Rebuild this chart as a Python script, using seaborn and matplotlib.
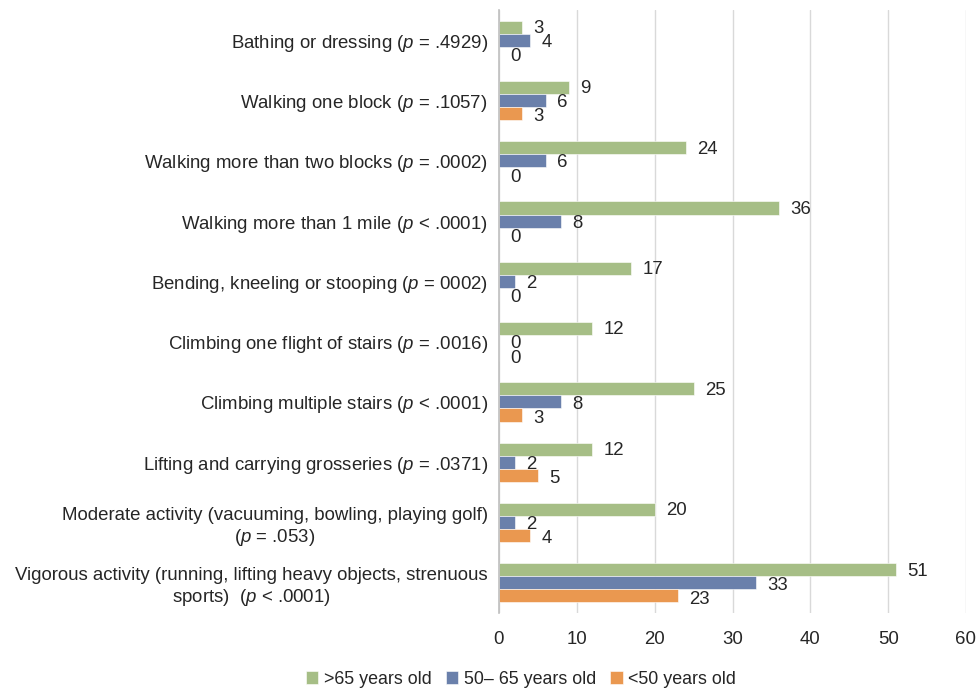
import matplotlib
matplotlib.use("Agg")
import matplotlib.pyplot as plt
import seaborn as sns
import pandas as pd

categories = [
    "Bathing or dressing ($p$ = .4929)",
    "Walking one block ($p$ = .1057)",
    "Walking more than two blocks ($p$ = .0002)",
    "Walking more than 1 mile ($p$ < .0001)",
    "Bending, kneeling or stooping ($p$ = 0002)",
    "Climbing one flight of stairs ($p$ = .0016)",
    "Climbing multiple stairs ($p$ < .0001)",
    "Lifting and carrying grosseries ($p$ = .0371)",
    "Moderate activity (vacuuming, bowling, playing golf)\n($p$ = .053)",
    "Vigorous activity (running, lifting heavy objects, strenuous\nsports)  ($p$ < .0001)",
]
series = [">65 years old", "50\u2013 65 years old", "<50 years old"]
over65 = [3, 9, 24, 36, 17, 12, 25, 12, 20, 51]
age50_65 = [4, 6, 6, 8, 2, 0, 8, 2, 2, 33]
under50 = [0, 3, 0, 0, 0, 0, 3, 5, 4, 23]
xticks = [0, 10, 20, 30, 40, 50, 60]

colors = ["#A6BE86", "#6A80AB", "#EA9850"]
FS = 13.4

sns.set_theme(style="white")
plt.rcParams["font.family"] = ["Liberation Sans", "DejaVu Sans"]
plt.rcParams["mathtext.fontset"] = "custom"
plt.rcParams["mathtext.it"] = "Liberation Sans:italic"
plt.rcParams["mathtext.rm"] = "Liberation Sans"

rows = []
for vals, s in zip([over65, age50_65, under50], series):
    for c, v in zip(categories, vals):
        rows.append({"category": c, "group": s, "value": v})
df = pd.DataFrame(rows)

fig = plt.figure(figsize=(9.79, 6.89), dpi=100)
ax = fig.add_axes([499 / 979, 1 - 613 / 689, (966 - 499) / 979, (613 - 10) / 689])

sns.barplot(data=df, y="category", x="value", hue="group", order=categories,
            hue_order=series, palette=colors, orient="h", width=0.65,
            saturation=1, ax=ax, legend=True, edgecolor="white", linewidth=0.4)

drops = [-1.0, -1.6, -2.4]
for cont, dy in zip(ax.containers, drops):
    anns = ax.bar_label(cont, padding=8, fontsize=FS, color="#262626")
    for a in anns:
        a.xyann = (8, dy)

ax.set_xlim(0, 60)
ax.set_xticks(xticks)
ax.set_xlabel("")
ax.set_ylabel("")
ax.grid(axis="x", color="#d9d9d9", linewidth=1)
ax.set_axisbelow(True)
for s in ["top", "right", "bottom"]:
    ax.spines[s].set_visible(False)
ax.spines["left"].set_color("#bfbfbf")
ax.spines["left"].set_linewidth(1.2)
ax.tick_params(axis="both", length=0, labelsize=FS, colors="#262626")
ax.tick_params(axis="y", pad=8)
ax.tick_params(axis="x", pad=13)
for lab in ax.get_yticklabels():
    lab.set_multialignment("center")

handles, labels = ax.get_legend_handles_labels()
ax.get_legend().remove()
fig.legend(handles, labels, loc="center", bbox_to_anchor=(521 / 979, 1 - 679 / 689),
           ncol=3, frameon=False, fontsize=12.9, handlelength=0.7, handleheight=0.7,
           handletextpad=0.3, columnspacing=0.8, labelcolor="#262626")

fig.savefig("out.png", dpi=100)
